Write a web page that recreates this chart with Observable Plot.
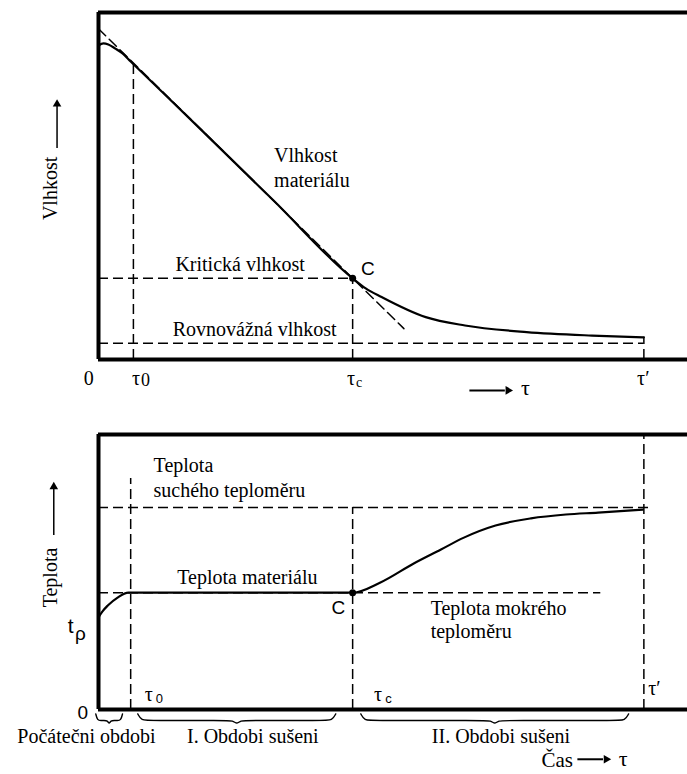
<!DOCTYPE html>
<html>
<head>
<meta charset="utf-8">
<script src="https://cdn.jsdelivr.net/npm/d3@7"></script>
<script src="https://cdn.jsdelivr.net/npm/@observablehq/plot@0.6"></script>
<style>
  html, body { margin: 0; padding: 0; background: #fff; }
  #wrap { position: relative; width: 687px; height: 774px; overflow: hidden; }
  #top, #bottom { position: absolute; left: 0; }
  #top { top: 0; }
  #bottom { top: 400px; }
  #wrap svg text { font-family: "Liberation Serif", "DejaVu Serif", serif; }
  #wrap svg g[font-family="Liberation Sans"] text { font-family: "Liberation Sans", "DejaVu Sans", sans-serif; }
</style>
</head>
<body>
<div id="wrap"><div id="top"></div><div id="bottom"></div></div>
<script>
// ---- data (time in arbitrary units, tau' = 100) ----
const tauNames = ["0", "τ0", "τc", "τ′"];
const tauValues = [0, 6.4, 46.6, 100];

// moisture curve (top panel)
const moistureT = [0, 0.9, 1.8, 3.1, 4.4, 5.9, 18.7, 32.1, 46.6, 49.0, 51.9, 60.0, 67.2, 78.5, 90.5, 100];
const moistureV = [90.5, 91.1, 90.8, 89.6, 88.2, 85.9, 66.4, 45.8, 23.4, 20.5, 18.0, 12.2, 9.8, 7.9, 6.9, 6.4];
const tangentT = [0, 56];
const tangentV = [95.3, 8.9];
const criticalMoisture = 23.4;
const equilibriumMoisture = 4.7;

// temperature curve (bottom panel)
const tempT = [0, 0.7, 1.7, 3.5, 5.5, 46.6, 51.7, 57.8, 62.8, 67.0, 72.8, 79.3, 85.7, 91.6, 99.8];
const tempV = [33.5, 35.6, 37.8, 40.7, 42.5, 42.5, 46.2, 53.1, 58.2, 62.5, 66.9, 69.5, 70.9, 71.6, 72.7];
const dryBulb = 73.5;
const wetBulb = 42.5;
const wetBulbEnd = 92.1;

// periods
const periodNames = ["Počátečni obdobi", "I. Obdobi sušeni", "II. Obdobi sušeni"];
const periodStart = [-0.5, 7.2, 48.1];
const periodEnd = [4.4, 43.5, 97.2];

const serif = "Liberation Serif";
const sans = "Liberation Sans";
const dash = "10,5";
const W = 687;
const FS = 20;

const moisture = moistureT.map((t, i) => ({t, v: moistureV[i]}));
const tangent = tangentT.map((t, i) => ({t, v: tangentV[i]}));
const temp = tempT.map((t, i) => ({t, v: tempV[i]}));
const tau = Object.fromEntries(tauNames.map((n, i) => [n, tauValues[i]]));

function txt(arr, opts) { return Plot.text(arr, {fontFamily: serif, fontSize: FS, ...opts}); }
function stxt(arr, opts) { return Plot.text(arr, {fontFamily: sans, fontSize: 19, ...opts}); }

// ---------------- TOP PANEL ----------------
const topPlot = Plot.plot({
  width: W, height: 400,
  marginLeft: 98, marginRight: 0, marginTop: 12, marginBottom: 41,
  x: {domain: [0, 108], axis: null},
  y: {domain: [0, 100], axis: null},
  style: {overflow: "visible"},
  marks: [
    Plot.ruleY([criticalMoisture], {x1: 0, x2: tau["τc"], strokeWidth: 1.5, strokeDasharray: dash}),
    Plot.ruleY([equilibriumMoisture], {x1: 0, x2: tau["τ′"], strokeWidth: 1.5, strokeDasharray: dash}),
    Plot.ruleX([tau["τ0"]], {y1: 0, y2: 85.6, strokeWidth: 1.5, strokeDasharray: dash}),
    Plot.ruleX([tau["τc"]], {y1: 0, y2: criticalMoisture, strokeWidth: 1.5, strokeDasharray: dash}),
    Plot.ruleX([tau["τ′"]], {y1: 0, y2: moistureV[moistureV.length - 1], strokeWidth: 1.5, strokeDasharray: dash}),
    Plot.line(tangent, {x: "t", y: "v", strokeWidth: 1.5, strokeDasharray: dash}),
    Plot.line(moisture, {x: "t", y: "v", strokeWidth: 2.2, curve: "monotone-x"}),
    Plot.dot([{t: tau["τc"], v: criticalMoisture}], {x: "t", y: "v", r: 3.5, fill: "black"}),
    // frame
    Plot.ruleY([0, 100], {strokeWidth: 4}),
    Plot.ruleX([0], {strokeWidth: 4}),
    // labels
    txt(["Vlhkost", "materiálu"], {x: 32.2, y: [56.8, 49.6], text: d => d, textAnchor: "start", lineAnchor: "bottom"}),
    txt(["Kritická vlhkost"], {x: 14.1, y: 25.6, textAnchor: "start", lineAnchor: "bottom"}),
    txt(["Rovnovážná vlhkost"], {x: 13.6, y: 6.9, textAnchor: "start", lineAnchor: "bottom"}),
    stxt(["C"], {x: 49.4, y: 26.2}),
    // tau labels
    txt(["0"], {x: -1.8, y: -5.5}),
    txt(["τ", "τ", "τ′"], {x: [6.9, 46.3, 99.9], y: -5.5, text: d => d}),
    txt(["0"], {x: 8.6, y: -5.9, fontSize: 18}),
    txt(["c"], {x: 47.8, y: -6.6, fontSize: 14}),
    Plot.ruleY([-8.9], {x1: 68.1, x2: 74.6, strokeWidth: 2}),
    Plot.dot([0], {x: 75.1, y: -8.9, symbol: "triangle", r: 3.2, rotate: 90, fill: "black"}),
    txt(["τ"], {x: 78.3, y: -8.3, fontSize: 22}),
    // y label
    txt(["Vlhkost"], {x: -8.8, y: 49.3, rotate: -90}),
    Plot.ruleX([-7.6], {y1: 60.8, y2: 73.0, strokeWidth: 1.5}),
    Plot.dot([0], {x: -7.6, y: 73.6, symbol: "triangle", r: 3.2, fill: "black"})
  ]
});
document.getElementById("top").appendChild(topPlot);

// ---------------- BOTTOM PANEL ----------------
function brace(x1, x2) {
  const yt = -1.6, ym = -4.0, yb = -5.4;
  const m = (x1 + x2) / 2;
  const e = Math.min(2.2, (x2 - x1) / 5);
  return [[x1, yt], [x1 + e * 0.3, ym], [x1 + e, ym], [m - e, ym], [m - e * 0.3, ym], [m, yb],
          [m + e * 0.3, ym], [m + e, ym], [x2 - e, ym], [x2 - e * 0.3, ym], [x2, yt]];
}
const braces = periodNames.flatMap((n, i) => brace(periodStart[i], periodEnd[i]).map(([x, y]) => ({n, x, y})));

const bottomPlot = Plot.plot({
  width: W, height: 374,
  marginLeft: 98, marginRight: 0, marginTop: 34, marginBottom: 65,
  x: {domain: [0, 108], axis: null},
  y: {domain: [0, 100], axis: null},
  style: {overflow: "visible"},
  marks: [
    Plot.ruleY([dryBulb], {x1: 0, x2: 100.9, strokeWidth: 1.5, strokeDasharray: dash}),
    Plot.ruleY([wetBulb], {x1: 0, x2: wetBulbEnd, strokeWidth: 1.5, strokeDasharray: dash}),
    Plot.ruleX([tau["τ0"] - 0.5], {y1: 0, y2: 84, strokeWidth: 1.5, strokeDasharray: dash}),
    Plot.ruleX([tau["τc"]], {y1: 0, y2: dryBulb, strokeWidth: 1.5, strokeDasharray: dash}),
    Plot.ruleX([tau["τ′"]], {y1: 0, y2: 100, strokeWidth: 1.5, strokeDasharray: dash}),
    Plot.line(temp, {x: "t", y: "v", strokeWidth: 2.2, curve: "monotone-x"}),
    Plot.dot([{t: tau["τc"], v: wetBulb}], {x: "t", y: "v", r: 3.5, fill: "black"}),
    Plot.ruleY([0, 100], {strokeWidth: 4}),
    Plot.ruleX([0], {strokeWidth: 4}),
    // labels
    txt(["Teplota", "suchého teploměru"], {x: 10.1, y: [86.2, 77.4], text: d => d, textAnchor: "start", lineAnchor: "bottom"}),
    txt(["Teplota materiálu"], {x: 27.3, y: 45.8, lineAnchor: "bottom"}),
    txt(["Teplota mokrého", "teploměru"], {x: 60.9, y: [34.5, 26.0], text: d => d, textAnchor: "start", lineAnchor: "bottom"}),
    stxt(["C"], {x: 44.0, y: 37.1}),
    stxt(["0"], {x: -2.9, y: -1.1}),
    stxt(["t"], {x: -5.1, y: 30.2, fontSize: 21}),
    stxt(["ρ"], {x: -3.3, y: 27.6}),
    // tau labels
    txt(["τ", "τ", "τ′"], {x: [8.5, 50.5, 100.8], y: [5.6, 5.6, 7.6], text: d => d, textAnchor: "start"}),
    stxt(["0", "c"], {x: [10.5, 52.6], y: 3.9, text: d => d, textAnchor: "start", fontSize: 13}),
    // braces
    Plot.line(braces, {x: "x", y: "y", z: "n", curve: "basis", strokeWidth: 1.4,
      strokeDasharray: d => d.n === periodNames[0] ? null : "18,4"}),
    txt(periodNames, {x: [-2.2, 28.3, 73.8], y: -9.9, text: d => d}),
    txt(["Čas"], {x: 87.0, y: -18.3, textAnchor: "end", fontSize: 21}),
    Plot.ruleY([-18.1], {x1: 87.9, x2: 92.6, strokeWidth: 2}),
    Plot.dot([0], {x: 93.1, y: -18.1, symbol: "triangle", r: 3.2, rotate: 90, fill: "black"}),
    txt(["τ"], {x: 95.4, y: -18.1, textAnchor: "start", fontSize: 22}),
    // y label
    txt(["Teplota"], {x: -8.8, y: 48, rotate: -90}),
    Plot.ruleX([-8.2], {y1: 63.3, y2: 80.3, strokeWidth: 1.5}),
    Plot.dot([0], {x: -8.2, y: 81.0, symbol: "triangle", r: 3.2, fill: "black"})
  ]
});
document.getElementById("bottom").appendChild(bottomPlot);
</script>
</body>
</html>
